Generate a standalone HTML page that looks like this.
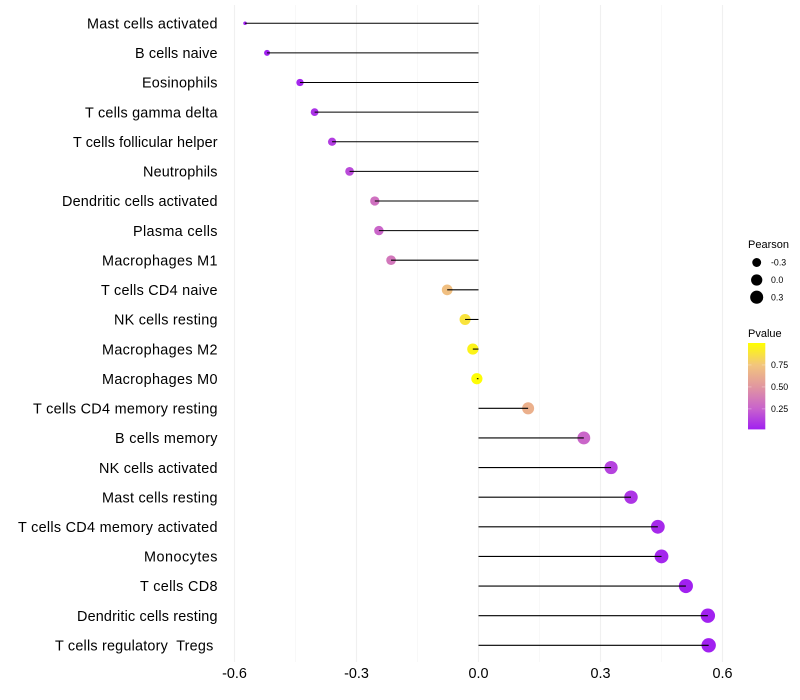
<!DOCTYPE html>
<html lang="en">
<head>
<meta charset="utf-8">
<title>Immune cell correlation lollipop chart</title>
<style>
  html, body { margin: 0; padding: 0; background: #fff; }
  svg { display: block; font-family: "Liberation Sans", Arial, sans-serif; }
  text { white-space: pre; }
</style>
</head>
<body>
<svg id="chart" width="800" height="700" viewBox="0 0 800 700" xmlns="http://www.w3.org/2000/svg"></svg>
<script>
const categories = ["Mast cells activated","B cells naive","Eosinophils","T cells gamma delta","T cells follicular helper","Neutrophils","Dendritic cells activated","Plasma cells","Macrophages M1","T cells CD4 naive","NK cells resting","Macrophages M2","Macrophages M0","T cells CD4 memory resting","B cells memory","NK cells activated","Mast cells resting","T cells CD4 memory activated","Monocytes","T cells CD8","Dendritic cells resting","T cells regulatory  Tregs "];
const labelWidths = [130.5,82.5,75.5,132.5,144.5,74.5,155.5,84.5,115.5,116.5,103.5,115.5,115.5,184.5,102.5,118.5,115.5,199.5,73.5,77.5,140.5,162.5];
const pearson = [-0.574,-0.52,-0.439,-0.403,-0.36,-0.317,-0.255,-0.245,-0.215,-0.077,-0.033,-0.014,-0.004,0.122,0.259,0.326,0.375,0.441,0.45,0.51,0.564,0.566];
const pvalue = [0.02,0.02,0.04,0.08,0.12,0.17,0.32,0.27,0.35,0.72,0.88,0.95,0.99,0.64,0.27,0.14,0.09,0.05,0.04,0.02,0.02,0.02];
const xTicks = [-0.6,-0.3,0,0.3,0.6];
const xMinorTicks = [-0.45,-0.15,0.15,0.45];
const xTickLabels = ["-0.6","-0.3","0.0","0.3","0.6"];
const sizeLegendValues = [-0.3,0,0.3];
const sizeLegendLabels = ["-0.3","0.0","0.3"];
const colorLegendValues = [0.25,0.5,0.75];
const colorLegendLabels = ["0.25","0.50","0.75"];

const svg = document.getElementById('chart');
const NS = 'http://www.w3.org/2000/svg';
function make(tag, attrs, text) {
  const el = document.createElementNS(NS, tag);
  for (const k in attrs) el.setAttribute(k, attrs[k]);
  if (text !== undefined) el.textContent = text;
  return el;
}
const xScale = v => 478.5 + v * 406.67;
const yScale = i => 23.26 + i * 29.62;
const minP = Math.min(...pearson), maxP = Math.max(...pearson);
const rScale = v => 1.8 + 5.4 * Math.sqrt(Math.max(0, (v - minP) / (maxP - minP)));
const gradStops = [[0.017,[160,32,240]],[0.25,[200,98,205]],[0.5,[225,150,160]],[0.75,[242,197,125]],[1,[255,255,0]]];
function colorScale(p) {
  const c = Math.max(0.017, Math.min(1, p));
  for (let i = 1; i < gradStops.length; i++) {
    if (c <= gradStops[i][0]) {
      const a = gradStops[i-1], b = gradStops[i];
      const t = (c - a[0]) / (b[0] - a[0]);
      const m = [0,1,2].map(j => Math.round(a[1][j] + (b[1][j] - a[1][j]) * t));
      return 'rgb(' + m.join(',') + ')';
    }
  }
  return 'rgb(255,255,0)';
}

const gridTop = 5, gridBottom = 662;
xMinorTicks.forEach(v => {
  const l = make('line', {x1:xScale(v), x2:xScale(v), y1:gridTop, y2:gridBottom, stroke:'#f2f2f2', 'stroke-width':0.55});
  
  
  svg.appendChild(l);
});
xTicks.forEach((v, i) => {
  const l = make('line', {x1:xScale(v), x2:xScale(v), y1:gridTop, y2:gridBottom, stroke:'#f0f0f0', 'stroke-width':1.07});
  
  
  svg.appendChild(l);
  const t = make('text', {x:xScale(v), y:678, 'text-anchor':'middle', 'font-size':14.4, fill:'#000'}, xTickLabels[i]);
  
  
  svg.appendChild(t);
});

categories.forEach((c, i) => {
  const y = yScale(i);
  const t = make('text', {x:217.5, y:y + 5.2, 'text-anchor':'end', 'font-size':14.4, textLength:labelWidths[i], lengthAdjust:'spacing', fill:'#000'}, c);
  
  
  svg.appendChild(t);
  const p = make('circle', {cx:xScale(pearson[i]), cy:y, r:rScale(pearson[i]), fill:colorScale(pvalue[i])});
  
  
  svg.appendChild(p);
  const s = make('line', {x1:xScale(0), x2:xScale(pearson[i]), y1:y, y2:y, stroke:'#000', 'stroke-width':1.07});
  
  
  svg.appendChild(s);
});

const title1 = make('text', {x:748, y:248, 'font-size':11, fill:'#000'}, 'Pearson');


svg.appendChild(title1);
const legendY = [262.5, 280, 297.2];
sizeLegendValues.forEach((v, i) => {
  const d = make('circle', {cx:756.7, cy:legendY[i], r:rScale(v), fill:'#000'});
  
  
  svg.appendChild(d);
  const t = make('text', {x:771, y:legendY[i] + 3.1, 'font-size':8.8, fill:'#000'}, sizeLegendLabels[i]);
  
  
  svg.appendChild(t);
});

const title2 = make('text', {x:748, y:337, 'font-size':11, fill:'#000'}, 'Pvalue');


svg.appendChild(title2);
const defs = make('defs', {});
const grad = make('linearGradient', {id:'pgrad', x1:0, y1:1, x2:0, y2:0});
gradStops.forEach(s => {
  const stop = make('stop', {offset:((s[0] - 0.017) / 0.983), 'stop-color':'rgb(' + s[1].join(',') + ')'});
  grad.appendChild(stop);
});
defs.appendChild(grad);
svg.appendChild(defs);
const bar = make('rect', {x:748, y:343, width:17.3, height:86.4, fill:'url(#pgrad)'});


svg.appendChild(bar);
const colorY = v => 429.4 - (v - 0.017) / 0.983 * 86.4;
colorLegendValues.forEach((v, i) => {
  const y = colorY(v);
  const a = make('line', {x1:748, x2:751.5, y1:y, y2:y, stroke:'#fff', 'stroke-opacity':0.6, 'stroke-width':0.5});
  
  
  svg.appendChild(a);
  const b = make('line', {x1:761.8, x2:765.3, y1:y, y2:y, stroke:'#fff', 'stroke-opacity':0.6, 'stroke-width':0.5});
  
  
  svg.appendChild(b);
  const t = make('text', {x:771, y:y + 3.1, 'font-size':8.8, fill:'#000'}, colorLegendLabels[i]);
  
  
  svg.appendChild(t);
});
</script>
</body>
</html>
